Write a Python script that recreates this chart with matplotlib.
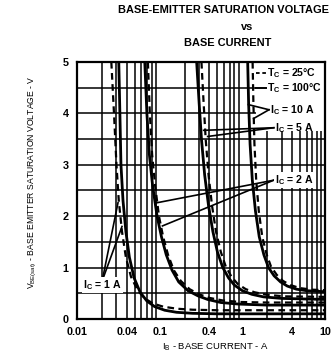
import matplotlib
matplotlib.use("Agg")
import matplotlib.pyplot as plt
from matplotlib.patches import Rectangle
import numpy as np

plt.rcParams['font.family'] = ['Liberation Sans', 'DejaVu Sans']
plt.rcParams['mathtext.fontset'] = 'custom'
plt.rcParams['mathtext.rm'] = 'Liberation Sans'
plt.rcParams['mathtext.bf'] = 'Liberation Sans:bold'
plt.rcParams['mathtext.it'] = 'Liberation Sans:italic'

# base current (A) / VBE(sat) (V) curves, TC = 100C solid, TC = 25C dashed
ib_1a_100 = [0.032, 0.033, 0.034, 0.036, 0.039, 0.043, 0.049, 0.058, 0.070, 0.087, 0.115, 0.16, 0.25, 0.5, 1.5, 10]
vbe_1a_100 = [5.0, 4.0, 3.0, 2.3, 1.7, 1.2, 0.8, 0.52, 0.35, 0.24, 0.17, 0.13, 0.11, 0.1, 0.1, 0.1]
ib_1a_25 = [0.026, 0.028, 0.030, 0.032, 0.035, 0.039, 0.045, 0.054, 0.066, 0.083, 0.11, 0.16, 0.25, 0.5, 1.5, 10]
vbe_1a_25 = [5.0, 4.0, 3.0, 2.3, 1.7, 1.2, 0.82, 0.56, 0.4, 0.3, 0.24, 0.2, 0.18, 0.17, 0.17, 0.17]

ib_2a_100 = [0.066, 0.070, 0.075, 0.082, 0.093, 0.105, 0.12, 0.141, 0.17, 0.22, 0.29, 0.38, 0.55, 0.9, 2, 10]
vbe_2a_100 = [5.0, 4.0, 3.2, 2.6, 2.0, 1.6, 1.25, 0.95, 0.72, 0.55, 0.45, 0.38, 0.32, 0.29, 0.27, 0.27]
ib_2a_25 = [0.072, 0.076, 0.081, 0.088, 0.098, 0.11, 0.126, 0.148, 0.18, 0.23, 0.3, 0.4, 0.58, 0.95, 2, 10]
vbe_2a_25 = [5.0, 4.0, 3.2, 2.6, 2.0, 1.6, 1.25, 0.95, 0.74, 0.58, 0.48, 0.41, 0.36, 0.33, 0.32, 0.32]

ib_5a_100 = [0.28, 0.30, 0.32, 0.35, 0.39, 0.44, 0.50, 0.58, 0.68, 0.80, 1.0, 1.3, 1.8, 3, 10]
vbe_5a_100 = [5.0, 4.2, 3.5, 2.8, 2.2, 1.7, 1.3, 1.0, 0.8, 0.66, 0.55, 0.48, 0.43, 0.4, 0.38]
ib_5a_25 = [0.32, 0.34, 0.36, 0.39, 0.43, 0.48, 0.55, 0.63, 0.74, 0.88, 1.1, 1.4, 2.0, 3.2, 10]
vbe_5a_25 = [5.0, 4.2, 3.5, 2.8, 2.2, 1.7, 1.3, 1.02, 0.82, 0.68, 0.58, 0.52, 0.47, 0.44, 0.43]

ib_10a_100 = [1.16, 1.19, 1.24, 1.32, 1.44, 1.6, 1.82, 2.07, 2.42, 2.9, 3.5, 4.5, 6, 10]
vbe_10a_100 = [5.0, 4.2, 3.4, 2.7, 2.1, 1.6, 1.25, 1.0, 0.84, 0.72, 0.64, 0.58, 0.55, 0.53]
ib_10a_25 = [1.33, 1.36, 1.40, 1.47, 1.58, 1.74, 1.97, 2.22, 2.6, 3.1, 3.8, 5, 7, 10]
vbe_10a_25 = [5.0, 4.2, 3.4, 2.7, 2.1, 1.6, 1.25, 1.02, 0.86, 0.74, 0.66, 0.6, 0.57, 0.56]

xticks = [0.01, 0.04, 0.1, 0.4, 1, 4, 10]
xticklabels = ['0.01', '0.04', '0.1', '0.4', '1', '4', '10']
yticks = [0, 1, 2, 3, 4, 5]

fig = plt.figure(figsize=(3.32, 3.58), dpi=100)
ax = fig.add_axes([0.232, 0.109, 0.747, 0.718])
ax.set_xscale('log')
ax.set_xlim(0.01, 10)
ax.set_ylim(0, 5)

# log paper grid
for dec in [0.01, 0.1, 1]:
    for k in range(2, 10):
        ax.axvline(dec * k, color='black', lw=1.1, zorder=1)
for v in np.arange(0.5, 5, 0.5):
    ax.axhline(v, color='black', lw=1.1, zorder=1)

solid = dict(color='black', lw=2.0, zorder=4, solid_capstyle='butt')
dashed = dict(color='black', lw=1.6, zorder=4, linestyle=(0, (3, 2)))
ax.plot(ib_1a_100, vbe_1a_100, **solid)
ax.plot(ib_1a_25, vbe_1a_25, **dashed)
ax.plot(ib_2a_100, vbe_2a_100, **solid)
ax.plot(ib_2a_25, vbe_2a_25, **dashed)
ax.plot(ib_5a_100, vbe_5a_100, **solid)
ax.plot(ib_5a_25, vbe_5a_25, **dashed)
ax.plot(ib_10a_100, vbe_10a_100, **solid)
ax.plot(ib_10a_25, vbe_10a_25, **dashed)

# blank area behind the legend block
ax.add_patch(Rectangle((1.45, 3.65), 10, 1.32, facecolor='white', edgecolor='none',
                       zorder=5, clip_on=False))

ax.plot([1.45, 1.95], [4.79, 4.79], color='black', lw=1.3, linestyle=(0, (2, 1.5)), zorder=6)
ax.plot([1.45, 1.95], [4.5, 4.5], color='black', lw=1.4, zorder=6)
lab = dict(fontsize=7.6, fontweight='bold', va='center', ha='left', zorder=7)
ax.text(1.98, 4.79, r'$\mathbf{T_C}$ = 25°C', **lab)
ax.text(1.98, 4.49, r'$\mathbf{T_C}$ = 100°C', **lab)
ax.text(2.15, 4.07, r'$\mathbf{I_C}$ = 10 A', **lab)
ax.text(2.48, 3.72, r'$\mathbf{I_C}$ = 5 A', **lab)
box = dict(facecolor='white', edgecolor='none', pad=0.8)
ax.text(2.48, 2.70, r'$\mathbf{I_C}$ = 2 A', bbox=box, clip_on=False, **lab)
ax.text(0.0118, 0.66, r'$\mathbf{I_C}$ = 1 A', bbox=box, **lab)

# leader lines from labels to curves
lead = dict(color='black', lw=1.2, zorder=6)
ax.plot([2.1, 1.18], [4.07, 4.17], **lead)
ax.plot([2.1, 1.37], [4.07, 3.90], **lead)
ax.plot([2.4, 0.34], [3.72, 3.67], **lead)
ax.plot([2.4, 0.38], [3.72, 3.55], **lead)
ax.plot([2.4, 0.092], [2.70, 2.26], **lead)
ax.plot([2.4, 0.108], [2.70, 1.81], **lead)
ax.plot([0.0206, 0.0313], [0.82, 2.26], **lead)
ax.plot([0.0210, 0.035], [0.82, 1.80], **lead)

ax.set_xticks(xticks)
ax.set_xticklabels(xticklabels)
ax.set_xticks([], minor=True)
ax.set_yticks(yticks)
ax.tick_params(length=0, labelsize=7.8, pad=6)
for t in ax.get_xticklabels() + ax.get_yticklabels():
    t.set_fontweight('bold')
for s in ax.spines.values():
    s.set_linewidth(1.6)
    s.set_zorder(6)

fig.text(0.672, 0.972, 'BASE-EMITTER SATURATION VOLTAGE', fontsize=7.9, fontweight='bold',
         ha='center', va='center')
fig.text(0.744, 0.925, 'vs', fontsize=7.9, fontweight='bold', ha='center', va='center')
fig.text(0.687, 0.880, 'BASE CURRENT', fontsize=7.9, fontweight='bold', ha='center', va='center')
fig.text(0.648, 0.031, r'$\mathrm{I_B}$ - BASE CURRENT - A', fontsize=6.8, ha='center', va='center')
fig.text(0.099, 0.492, r'$\mathrm{V_{BE(sat)}}$ - BASE EMITTER SATURATION VOLTAGE - V', fontsize=6.2,
         ha='center', va='center', rotation=90)

fig.savefig('out.png', dpi=100)
